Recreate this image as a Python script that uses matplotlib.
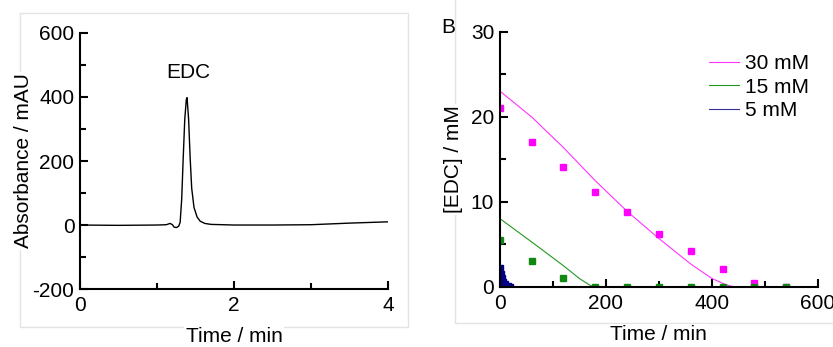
import numpy as np
import matplotlib as mpl
mpl.use('agg')
import matplotlib.pyplot as plt
from matplotlib.patches import Rectangle
from matplotlib.ticker import MultipleLocator

plt.rcParams['font.family'] = ['Liberation Sans', 'DejaVu Sans']
plt.rcParams['axes.unicode_minus'] = False

# panel A: chromatogram
t_chrom = [0, 0.5, 1.0, 1.12, 1.17, 1.2, 1.22, 1.25, 1.28, 1.3, 1.32, 1.34, 1.36,
           1.38, 1.39, 1.41, 1.43, 1.45, 1.48, 1.52, 1.56, 1.62, 1.7, 2.0, 2.5,
           3.0, 3.5, 4.0]
abs_chrom = [0, -1, 0, 1, 5, 1, -6, -8, -4, 8, 80, 210, 330, 392, 398, 330, 210,
             115, 55, 25, 12, 5, 2, 0, 0, 1, 6, 10]

# panel B: measured points
t_pts = [0, 60, 120, 180, 240, 300, 360, 420, 480, 540]
edc30 = [21.0, 17.0, 14.1, 11.2, 8.8, 6.2, 4.2, 2.1, 0.5, 0.05]
edc15 = [5.5, 3.1, 1.1, 0.0, 0.0, 0.0, 0.0, 0.0, 0.0, 0.0]
t_pts5 = [0, 2, 4, 6, 10, 15, 20]
edc5 = [2.2, 1.5, 1.0, 0.6, 0.3, 0.1, 0.0]

# panel B: fitted curves
t_fit30 = [0, 1, 60, 120, 180, 240, 300, 360, 400, 425, 442, 600]
fit30 = [30, 23, 20, 16.4, 12.5, 8.9, 5.7, 2.7, 1.0, 0.3, 0, 0]
t_fit15 = [0, 1, 60, 120, 150, 170, 178, 600]
fit15 = [15, 8, 5.3, 2.5, 1.0, 0.2, 0, 0]
t_fit5 = [0, 0.5, 2, 5, 10, 15, 20, 600]
fit5 = [5, 2.5, 1.5, 0.8, 0.3, 0.05, 0, 0]

FS = 15

fig = plt.figure(figsize=(8.33, 3.47), dpi=100)

# light grey panel frames, kept behind everything
fig.patches.append(Rectangle((0.024, 0.058), 0.466, 0.905, transform=fig.transFigure,
                             fill=False, edgecolor='#e3e3e3', linewidth=1, zorder=-5))
fig.patches.append(Rectangle((0.546, 0.069), 0.47, 0.95, transform=fig.transFigure,
                             fill=False, edgecolor='#e3e3e3', linewidth=1, zorder=-5))

ax1 = fig.add_axes([0.096, 0.167, 0.370, 0.738])
ax2 = fig.add_axes([0.600, 0.173, 0.382, 0.735])

white = dict(facecolor='white', edgecolor='none', pad=1)
for ax in (ax1, ax2):
    ax.patch.set_alpha(0)
    for s in ('top', 'right'):
        ax.spines[s].set_visible(False)
    for s in ('left', 'bottom'):
        ax.spines[s].set_linewidth(1.5)
    ax.tick_params(which='both', direction='in', width=1.5, labelsize=FS)
    ax.tick_params(axis='x', pad=5)
    ax.tick_params(axis='y', pad=4)
    ax.tick_params(which='major', length=6)
    ax.tick_params(which='minor', length=4.5)

ax1.plot(t_chrom, abs_chrom, color='black', linewidth=1)
ax1.set_xlim(0, 4)
ax1.set_ylim(-200, 600)
ax1.xaxis.set_major_locator(MultipleLocator(2))
ax1.xaxis.set_minor_locator(MultipleLocator(1))
ax1.yaxis.set_major_locator(MultipleLocator(200))
ax1.yaxis.set_minor_locator(MultipleLocator(100))
ax1.set_xlabel('Time / min', fontsize=FS, labelpad=9, bbox=white)
ax1.set_ylabel('Absorbance / mAU', fontsize=FS, labelpad=0, bbox=white)
ax1.text(1.4, 478, 'EDC', fontsize=FS, ha='center', va='center')

ax2.plot(t_fit30, fit30, color='#ff33ff', linewidth=0.8, label='30 mM')
ax2.plot(t_fit15, fit15, color='#229922', linewidth=0.8, label='15 mM')
ax2.plot(t_fit5, fit5, color='#333399', linewidth=0.8, label='5 mM')
ax2.plot(t_pts, edc30, 's', color='#ff00ff', markersize=4, linestyle='none')
ax2.plot(t_pts, edc15, 's', color='#118811', markersize=4, linestyle='none')
ax2.plot(t_pts5, edc5, 's', color='#000080', markersize=4, linestyle='none')
ax2.set_xlim(0, 600)
ax2.set_ylim(0, 30)
ax2.xaxis.set_major_locator(MultipleLocator(200))
ax2.xaxis.set_minor_locator(MultipleLocator(100))
ax2.yaxis.set_major_locator(MultipleLocator(10))
ax2.yaxis.set_minor_locator(MultipleLocator(5))
ax2.set_xlabel('Time / min', fontsize=FS, labelpad=9, bbox=white)
ax2.set_ylabel('[EDC] / mM', fontsize=FS, labelpad=6, bbox=white)
ax2.legend(loc='upper left', bbox_to_anchor=(0.6, 0.985), frameon=False, fontsize=FS,
           handlelength=1.4, handletextpad=0.3, labelspacing=0.2)
fig.text(0.538, 0.92, 'B', fontsize=FS, ha='center', va='center')

fig.savefig('out.png', dpi=100)
